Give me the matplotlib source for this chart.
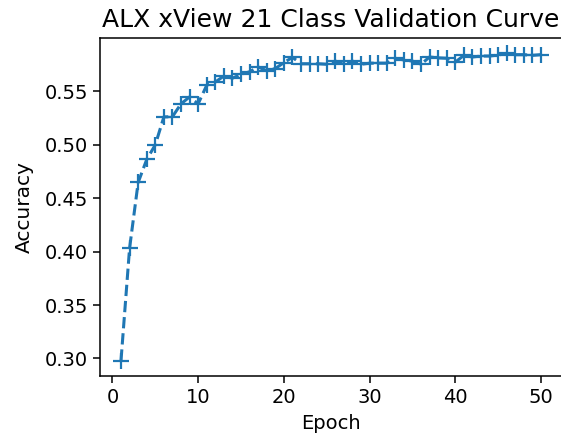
import matplotlib
matplotlib.use('Agg')
import matplotlib.pyplot as plt

# validation accuracy per epoch
epochs = list(range(1, 51))
accuracy = [
    0.298, 0.403, 0.4645, 0.486, 0.4997, 0.5258, 0.526, 0.538, 0.5445, 0.538,
    0.5554, 0.5584, 0.564, 0.562, 0.5656, 0.568, 0.5725, 0.569, 0.571, 0.5765,
    0.5815, 0.5755, 0.5755, 0.5755, 0.575, 0.578, 0.5755, 0.578, 0.575, 0.576,
    0.576, 0.576, 0.5806, 0.579, 0.578, 0.575, 0.5818, 0.581, 0.5806, 0.577,
    0.5833, 0.5818, 0.5827, 0.5827, 0.5836, 0.5852, 0.584, 0.584, 0.5833, 0.584,
]

fig = plt.figure(figsize=(5.61, 4.4), dpi=100)
ax = fig.add_axes([100 / 561, 64 / 440, 462 / 561, 338 / 440])

ax.plot(epochs, accuracy, linestyle='--', marker='+', markersize=11,
        linewidth=2.2, markeredgewidth=1.6, color='#1f77b4')

ax.set_xlabel('Epoch', fontsize=14, labelpad=5)
ax.set_ylabel('Accuracy', fontsize=14.5, labelpad=8)
ax.set_title('ALX xView 21 Class Validation Curve', fontsize=18, pad=8)
ax.set_xticks([0, 10, 20, 30, 40, 50])
ax.set_yticks([0.30, 0.35, 0.40, 0.45, 0.50, 0.55])
ax.set_yticklabels(['0.30', '0.35', '0.40', '0.45', '0.50', '0.55'])
ax.tick_params(labelsize=14, length=5, width=1.1)
for s in ax.spines.values():
    s.set_linewidth(1.1)

fig.savefig('out.png', dpi=100)
